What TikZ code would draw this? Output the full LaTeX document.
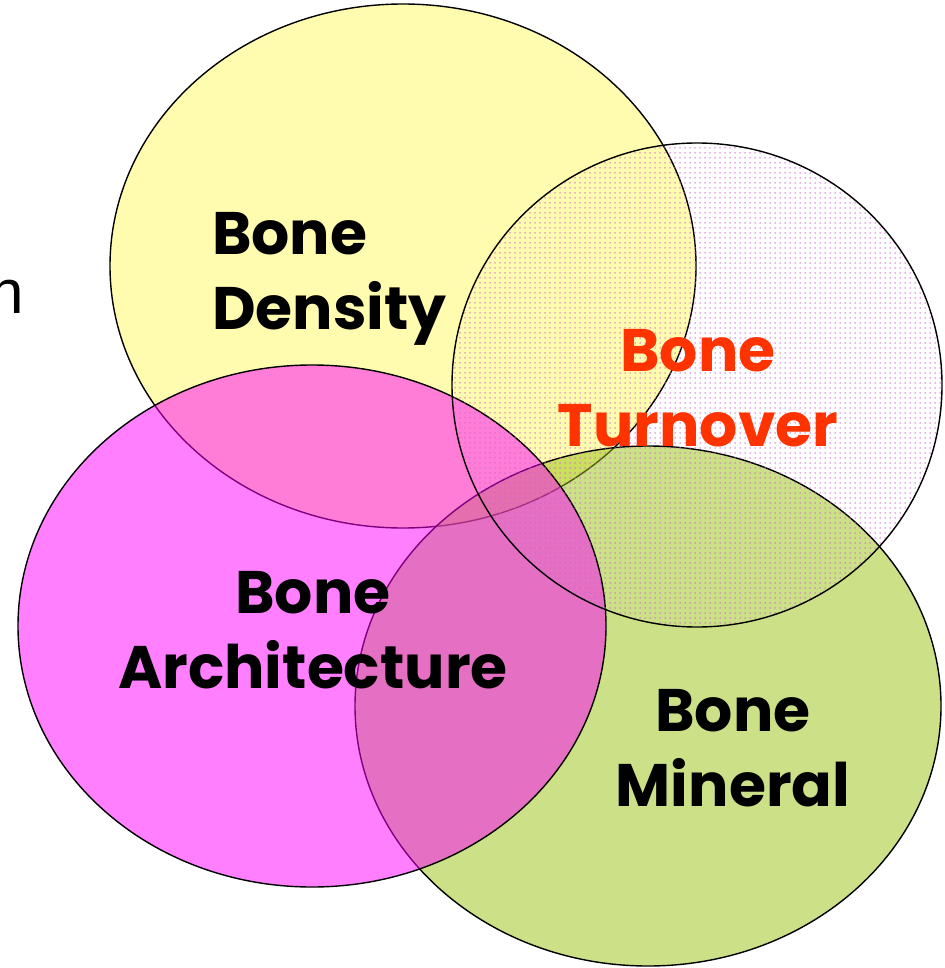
\documentclass[tikz,border=0pt]{standalone}
\usepackage{fontspec}
\setmainfont{Poppins}
\newfontfamily\plainfont{Liberation Sans}
\usepackage{xcolor}
\usepackage{tikz}
\usetikzlibrary{shapes.geometric}
\usetikzlibrary{patterns.meta}
\usetikzlibrary{positioning}

\definecolor{densityyellow}{RGB}{255,252,176}
\definecolor{archmagenta}{RGB}{255,0,255}
\definecolor{mineralgreen}{RGB}{153,193,17}
\definecolor{dotpink}{RGB}{205,100,205}
\definecolor{turnred}{RGB}{255,51,0}

\begin{document}
\begin{tikzpicture}[
    x=1pt, y=-1pt,
    % Outline of every set
    set outline/.style={draw=black, line width=1.4pt},
    % Set shapes
    set oval/.style={ellipse, set outline, inner sep=0pt, outer sep=0pt},
    % Label style for the set names
    set label/.style={font=\fontsize{60}{75}\selectfont\bfseries, align=left, inner sep=0pt},
    centered label/.style={set label, align=center}
  ]

  \useasboundingbox (0,0) rectangle (944,968);

  % --- Sets ---
  \node[set oval, fill=densityyellow, minimum width=586pt, minimum height=524pt]
    (density) at (403,266) {};
  \node[set oval, fill=mineralgreen, fill opacity=0.5, minimum width=586pt, minimum height=520pt]
    (mineral) at (648,706) {};
  \node[set oval, fill=archmagenta, fill opacity=0.5, minimum width=588pt, minimum height=522pt]
    (architecture) at (312,626) {};
  \node[set oval, pattern={Dots[distance=5pt, radius=0.75pt]}, pattern color=dotpink,
    minimum width=490pt, minimum height=484pt]
    (turnover) at (697,385) {};

  % --- Labels ---
  \node[set label, anchor=north west] (density text) at (212,212) {Bone\\Density};
  \node[centered label, text=turnred] (turnover text) at (698,388) {Bone\\Turnover};
  \node[centered label] (architecture text) at (313,630) {Bone\\Architecture};
  \node[centered label] (mineral text) at (733,748) {Bone\\Mineral};

  % Cut-off text at the left edge
  \node[font=\plainfont\fontsize{62}{74}\selectfont, text=black, anchor=base east, inner sep=0pt]
    (cut text) at (24,313) {n};

\end{tikzpicture}
\end{document}
